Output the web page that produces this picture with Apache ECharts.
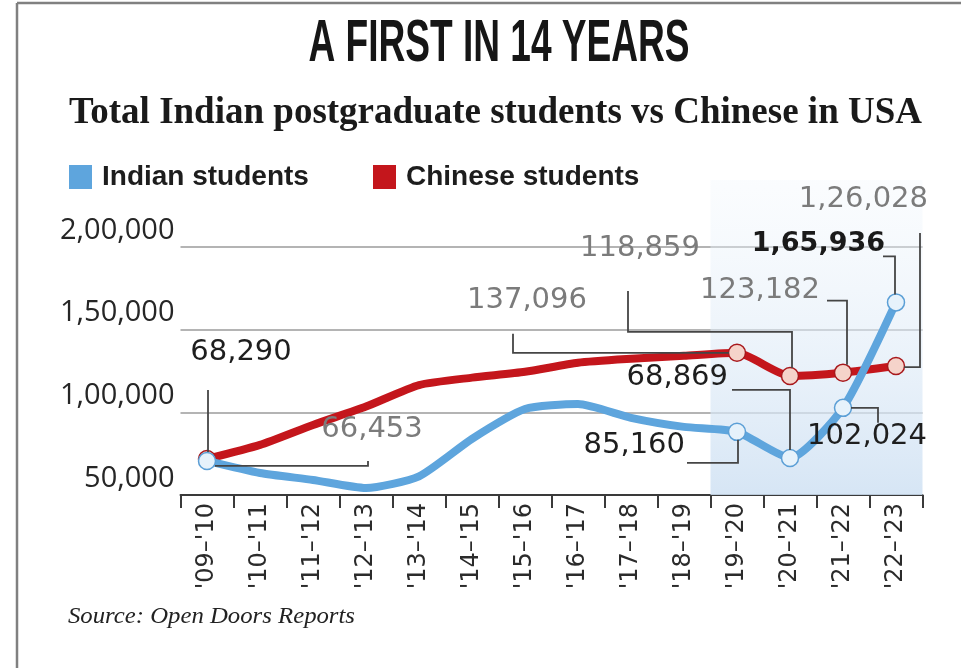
<!DOCTYPE html>
<html><head><meta charset="utf-8">
<script src="https://cdn.jsdelivr.net/npm/echarts@6/dist/echarts.min.js"></script>
<style>html,body{margin:0;padding:0;background:#fff}#c{width:961px;height:668px}</style>
</head><body><div id="c"></div>
<script>
// ---- data ----
const categories = ["'09–'10","'10–'11","'11–'12","'12–'13","'13–'14","'14–'15","'15–'16","'16–'17","'17–'18","'18–'19","'19–'20","'20–'21","'21–'22","'22–'23"];
const indianStudents  = [70600, 63300, 59100, 54200, 61300, 84000, 102000, 105000, 96700, 91200, 88200, 72400, 102700, 166500];
const chineseStudents = [71800, 80300, 92400, 103500, 116500, 121000, 124500, 130000, 132400, 134200, 136000, 122000, 124000, 128000];
const yTicks = [50000, 100000, 150000, 200000];
const yTickLabels = ['50,000', '1,00,000', '1,50,000', '2,00,000'];
const annotationTexts  = ['68,290', '66,453', '137,096', '118,859', '123,182', '1,26,028', '1,65,936', '68,869', '85,160', '102,024'];
const annotationSeries = ['in', 'cn', 'cn', 'cn', 'cn', 'cn', 'in', 'in', 'in', 'in'];
const annotationIndex  = [0, 0, 10, 11, 12, 13, 13, 11, 10, 12];

// ---- layout / styles (offsets relative to each annotated point) ----
const annotLayout = [
  {align:'center', dx: 34,  dy:-108, tone:'dark', path:[[1,-71],[1,-9]]},
  {align:'center', dx: 165, dy:-29,  tone:'gray', path:[[8,7],[161,7],[161,2]]},
  {align:'center', dx:-210, dy:-52,  tone:'gray', path:[[-224,-19],[-224,0],[-8,0]]},
  {align:'center', dx:-150, dy:-127, tone:'gray', path:[[-162,-85],[-162,-44],[2,-44],[2,-8]]},
  {align:'right',  dx:-23,  dy:-82,  tone:'gray', path:[[-16,-72],[4,-72],[4,-8]]},
  {align:'right',  dx: 32,  dy:-167, tone:'gray', path:[[24,-133],[24,1],[8,1]]},
  {align:'right',  dx:-11,  dy:-58,  tone:'bold', path:[[-13,-46],[-1,-46],[-1,-8]]},
  {align:'right',  dx:-62,  dy:-80,  tone:'dark', path:[[-58,-68],[0,-68],[0,-8]]},
  {align:'right',  dx:-52,  dy: 14,  tone:'dark', path:[[-50,31],[1,31],[1,8]]},
  {align:'right',  dx: 84,  dy: 29,  tone:'dark', path:[[8,0],[35,0],[35,15]]}
];
const BLUE = '#5ea5dd', RED = '#c4161c';
const toneStyle = {
  dark: {fill:'#1e1e1e', font:'29px "DejaVu Sans"'},
  gray: {fill:'#7b7b7b', font:'29px "DejaVu Sans"'},
  bold: {fill:'#1a1a1a', font:'bold 27px "DejaVu Sans"'}
};

function marked(key, i) {
  for (let k = 0; k < annotationIndex.length; k++) if (annotationSeries[k] === key && annotationIndex[k] === i) return true;
  return false;
}
function buildData(values, key, fill, border) {
  return values.map((v, i) => marked(key, i)
    ? {value: v, symbol: 'circle', itemStyle: {color: fill, borderColor: border, borderWidth: 1.5}}
    : {value: v, symbol: 'none'});
}

const chart = echarts.init(document.getElementById('c'), null, {renderer: 'canvas'});
const legendText = {fontFamily: '"Liberation Sans"', fontWeight: 'bold', fontSize: 28, color: '#1d1d1d', lineHeight: 24, padding: [0, 0, 0, 5]};
chart.setOption({
  animation: false,
  backgroundColor: '#ffffff',
  grid: {left: 180.5, top: 247, width: 742, height: 248},
  legend: [
    {left: 64, top: 158, data: ['Indian students'], icon: 'rect', itemWidth: 23, itemHeight: 24, selectedMode: false, textStyle: legendText},
    {left: 368, top: 158, data: ['Chinese students'], icon: 'rect', itemWidth: 23, itemHeight: 24, selectedMode: false, textStyle: legendText}
  ],
  xAxis: {
    type: 'category', data: categories, boundaryGap: true,
    axisLine: {lineStyle: {color: '#3a3a3a', width: 2}},
    axisTick: {show: true, length: 13, interval: 0, lineStyle: {color: '#3a3a3a', width: 2}},
    axisLabel: {rotate: 90, interval: 0, margin: 8, fontFamily: '"DejaVu Sans"', fontSize: 24, color: '#2b2b2b'},
    splitLine: {show: false}
  },
  yAxis: {
    type: 'value', min: 50000, max: 200000, interval: 50000,
    axisLine: {show: false}, axisTick: {show: false},
    splitLine: {lineStyle: {color: '#9b9b9b', width: 1.5}},
    axisLabel: {formatter: v => yTickLabels[yTicks.indexOf(v)], fontFamily: '"Open Sans"', fontSize: 29, color: '#262626', margin: 6, verticalAlign: 'bottom', padding: [0, 0, 2, 0]}
  },
  series: [
    {name: 'Chinese students', type: 'line', data: buildData(chineseStudents, 'cn', '#f5d3ca', '#a8181c'),
     smooth: 0.2, symbolSize: 17, showAllSymbol: true, z: 2,
     lineStyle: {color: RED, width: 8, cap: 'round', join: 'round'}, itemStyle: {color: RED},
     emphasis: {disabled: true}},
    {name: 'Indian students', type: 'line', data: buildData(indianStudents, 'in', '#e6f2fb', '#5b9fd6'),
     smooth: 0.2, symbolSize: 17, showAllSymbol: true, z: 3,
     lineStyle: {color: BLUE, width: 8, cap: 'round', join: 'round'}, itemStyle: {color: BLUE},
     emphasis: {disabled: true}}
  ]
});

// ---- measured text fitting ----
const mctx = document.createElement('canvas').getContext('2d');
function fit(text, font, target) { mctx.font = font; return target / mctx.measureText(text).width; }

const P = (i, v) => chart.convertToPixel({gridIndex: 0}, [i, v]);
const band = P(1, 100000)[0] - P(0, 100000)[0];
const gridBottom = P(0, 50000)[1];
const elements = [];

// highlighted recent-years band
elements.push({type: 'rect', z: 1, silent: true,
  shape: {x: P(10, 0)[0] - band / 2, y: 180, width: band * 4, height: gridBottom - 180},
  style: {fill: new echarts.graphic.LinearGradient(0, 0, 0, 1, [
    {offset: 0, color: 'rgba(240,246,252,0.3)'}, {offset: 1, color: 'rgba(207,225,243,0.85)'}])}});

// annotations
annotationTexts.forEach((t, k) => {
  const vals = annotationSeries[k] === 'in' ? indianStudents : chineseStudents;
  const p = P(annotationIndex[k], vals[annotationIndex[k]]);
  const L = annotLayout[k];
  elements.push({type: 'polyline', z: 4, silent: true,
    shape: {points: L.path.map(q => [p[0] + q[0], p[1] + q[1]])},
    style: {stroke: '#454545', lineWidth: 1.8, fill: null}});
  elements.push({type: 'text', z: 6, silent: true, x: p[0] + L.dx, y: p[1] + L.dy,
    style: {text: t, fill: toneStyle[L.tone].fill, font: toneStyle[L.tone].font, align: L.align, verticalAlign: 'middle'}});
});

// titles, source, frame
const titleFont = 'bold 60px "Liberation Sans"';
const subFont = 'bold 38px "Liberation Serif"';
const srcFont = 'italic 24px "Liberation Serif"';
elements.push({type: 'text', x: 499, y: 44, scaleX: fit('A FIRST IN 14 YEARS', titleFont, 381),
  style: {text: 'A FIRST IN 14 YEARS', font: titleFont, fill: '#161616', align: 'center', verticalAlign: 'middle'}});
elements.push({type: 'text', x: 495.5, y: 113, scaleX: fit('Total Indian postgraduate students vs Chinese in USA', subFont, 853),
  style: {text: 'Total Indian postgraduate students vs Chinese in USA', font: subFont, fill: '#1a1a1a', align: 'center', verticalAlign: 'middle'}});
elements.push({type: 'text', x: 68, y: 617, scaleX: fit('Source: Open Doors Reports', srcFont, 287),
  style: {text: 'Source: Open Doors Reports', font: srcFont, fill: '#222', align: 'left', verticalAlign: 'middle'}});
elements.push({type: 'line', shape: {x1: 17, y1: 3, x2: 17, y2: 668}, style: {stroke: '#808080', lineWidth: 2.5}});
elements.push({type: 'line', shape: {x1: 17, y1: 3, x2: 961, y2: 3}, style: {stroke: '#808080', lineWidth: 2.5}});

chart.setOption({graphic: {elements: elements}});
</script>
</body></html>
